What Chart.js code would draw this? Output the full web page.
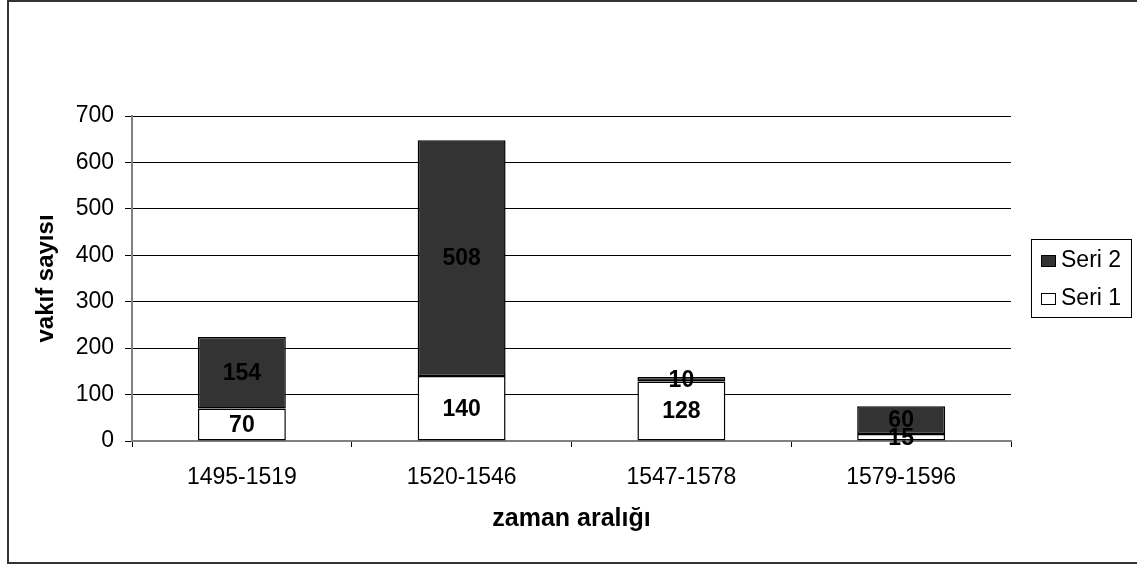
<!DOCTYPE html>
<html>
<head>
<meta charset="utf-8">
<script src="https://cdn.jsdelivr.net/npm/chart.js@4.4.1/dist/chart.umd.min.js"></script>
<style>
	html, body { margin: 0; padding: 0; background: #fff; }
	#wrap { width: 1137px; height: 565px; }
</style>
</head>
<body>
<div id="wrap"><canvas id="chart" width="1137" height="565"></canvas></div>
<script>
	'use strict';

	// Chart data.
	const categories = ['1495-1519', '1520-1546', '1547-1578', '1579-1596'];
	const seri1 = [70, 140, 128, 15];
	const seri2 = [154, 508, 10, 60];
	const yTicks = [0, 100, 200, 300, 400, 500, 600, 700];

	const fontFamily = '"Liberation Sans", Arial, sans-serif';
	const darkFill = '#333333';
	const axisGrey = '#808080';

	/**
	 * Outer frame and white background.
	 */
	const framePlugin = {
		id: 'frame',
		beforeDraw: function(chart) {
			const ctx = chart.ctx;
			ctx.save();
			ctx.fillStyle = '#fff';
			ctx.fillRect(0, 0, chart.width, chart.height);
			ctx.strokeStyle = '#333';
			ctx.lineWidth = 2;
			ctx.beginPath();
			ctx.moveTo(chart.width, 1);
			ctx.lineTo(8, 1);
			ctx.lineTo(8, 563);
			ctx.lineTo(chart.width, 563);
			ctx.stroke();
			ctx.restore();
		}
	};

	/**
	 * Value labels centred in each bar segment.
	 */
	const valueLabelPlugin = {
		id: 'valueLabels',
		afterDatasetsDraw: function(chart) {
			const ctx = chart.ctx;
			ctx.save();
			ctx.font = 'bold 23px ' + fontFamily;
			ctx.fillStyle = '#000';
			ctx.textAlign = 'center';
			ctx.textBaseline = 'middle';
			chart.data.datasets.forEach(function(ds, i) {
				const meta = chart.getDatasetMeta(i);
				meta.data.forEach(function(bar, j) {
					const yMid = (bar.y + bar.base) / 2;
					ctx.fillText(String(ds.data[j]), bar.x, yMid + 1);
				});
			});
			ctx.restore();
		}
	};

	/**
	 * Boxed legend at the right, Seri 2 above Seri 1.
	 */
	const boxLegendPlugin = {
		id: 'boxLegend',
		afterDraw: function(chart) {
			const ctx = chart.ctx;
			const box = { x: 1031, y: 239, w: 100, h: 78 };
			ctx.save();
			ctx.strokeStyle = '#000';
			ctx.lineWidth = 1;
			ctx.strokeRect(box.x + 0.5, box.y + 0.5, box.w, box.h);

			const items = chart.data.datasets.slice().reverse();
			ctx.font = '23px ' + fontFamily;
			ctx.textBaseline = 'middle';
			ctx.textAlign = 'left';
			items.forEach(function(ds, k) {
				const cy = box.y + 22 + k * 38;
				ctx.fillStyle = ds.backgroundColor;
				ctx.fillRect(box.x + 10.5, cy - 5.5, 14, 11);
				ctx.strokeStyle = '#000';
				ctx.strokeRect(box.x + 10.5, cy - 5.5, 14, 11);
				ctx.fillStyle = '#000';
				ctx.fillText(ds.label, box.x + 30, cy);
			});
			ctx.restore();
		}
	};

	const ctx = document.getElementById('chart').getContext('2d');
	new Chart(ctx, {
		type: 'bar',
		data: {
			labels: categories,
			datasets: [
				{
					label: 'Seri 1',
					data: seri1,
					backgroundColor: '#ffffff',
					borderColor: '#000',
					borderWidth: 1.5,
					borderSkipped: false,
					barPercentage: 0.4,
					categoryPercentage: 1
				},
				{
					label: 'Seri 2',
					data: seri2,
					backgroundColor: darkFill,
					borderColor: '#000',
					borderWidth: 1.5,
					borderSkipped: false,
					barPercentage: 0.4,
					categoryPercentage: 1
				}
			]
		},
		options: {
			responsive: false,
			animation: false,
			events: [],
			layout: {
				padding: { left: 20, top: 116, right: 126, bottom: 31 }
			},
			plugins: {
				legend: { display: false },
				tooltip: { enabled: false }
			},
			scales: {
				x: {
					stacked: true,
					border: { color: axisGrey, width: 2 },
					grid: {
						display: true,
						drawOnChartArea: false,
						drawTicks: true,
						tickLength: 6,
						color: '#000',
						offset: true
					},
					ticks: {
						color: '#000',
						padding: 17,
						font: { family: fontFamily, size: 23 },
						maxRotation: 0
					},
					title: {
						display: true,
						text: 'zaman aralığı',
						color: '#000',
						padding: 0,
						font: { family: fontFamily, size: 25, weight: 'bold' }
					},
					afterFit: function(scale) { scale.height = 93; }
				},
				y: {
					stacked: true,
					min: 0,
					max: 700,
					border: { color: axisGrey, width: 2 },
					grid: {
						color: function(c) { return c.tick && c.tick.value === 0 ? axisGrey : '#000'; },
						lineWidth: 1,
						tickLength: 7,
						tickColor: '#000'
					},
					afterBuildTicks: function(scale) {
						scale.ticks = yTicks.map(function(v) { return { value: v }; });
					},
					ticks: {
						color: '#000',
						padding: 11,
						font: { family: fontFamily, size: 23 }
					},
					title: {
						display: true,
						text: 'vakıf sayısı',
						color: '#000',
						padding: { top: 12, bottom: 0 },
						font: { family: fontFamily, size: 24, weight: 'bold' }
					},
					afterFit: function(scale) { scale.width = 112; }
				}
			}
		},
		plugins: [framePlugin, valueLabelPlugin, boxLegendPlugin]
	});
</script>
</body>
</html>
